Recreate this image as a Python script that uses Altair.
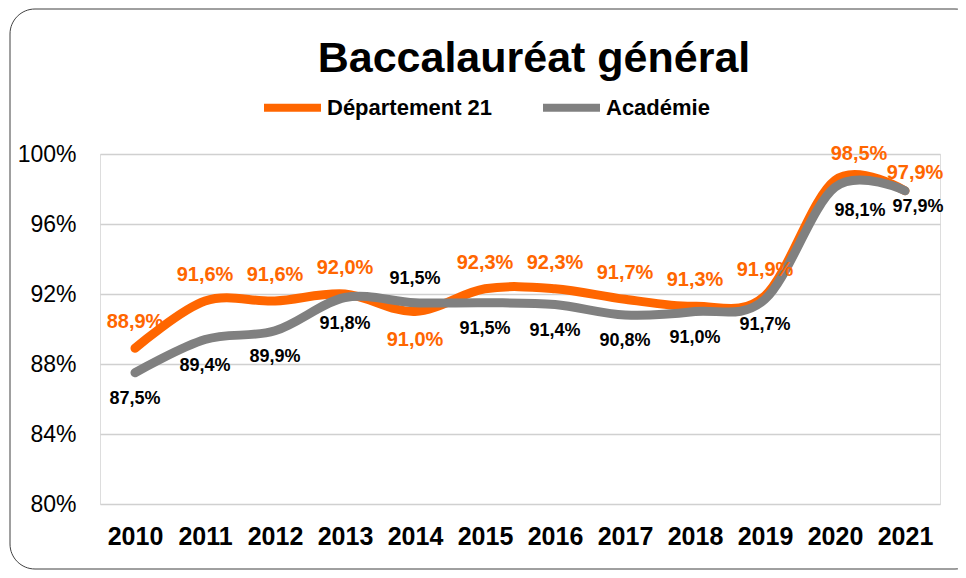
import altair as alt
import pandas as pd

years = ["2010", "2011", "2012", "2013", "2014", "2015", "2016", "2017", "2018", "2019", "2020", "2021"]
dept = [88.9, 91.6, 91.6, 92.0, 91.0, 92.3, 92.3, 91.7, 91.3, 91.9, 98.5, 97.9]
acad = [87.5, 89.4, 89.9, 91.8, 91.5, 91.5, 91.4, 90.8, 91.0, 91.7, 98.1, 97.9]
dept_pos = ["above", "above", "above", "above", "below", "above", "above", "above", "above", "above", "above", "above"]
acad_pos = ["below", "below", "below", "below", "above", "below", "below", "below", "below", "below", "below", "below"]
series = ["Département 21", "Académie"]
colors = ["#FF6600", "#808080"]
y_ticks = [80, 84, 88, 92, 96, 100]
title = "Baccalauréat général"

FONT = "Liberation Sans"

rows = []
for name, vals, pos in ((series[0], dept, dept_pos), (series[1], acad, acad_pos)):
    for yr, v, p in zip(years, vals, pos):
        rows.append({"year": yr, "value": v / 100, "series": name, "pos": p,
                     "label": f"{v:.1f}%".replace(".", ",")})
df = pd.DataFrame(rows)

x_enc = alt.X("year:O", scale=alt.Scale(type="point", padding=0.5),
              axis=alt.Axis(title=None, labelAngle=0, labelFontSize=25, labelFont=FONT,
                            labelFontWeight="bold", labelColor="black", ticks=False,
                            domain=False, labelPadding=20, grid=False))
y_enc = alt.Y("value:Q", scale=alt.Scale(domain=[0.8, 1.0], nice=False, zero=False),
              axis=alt.Axis(title=None, values=[t / 100 for t in y_ticks], format=".0%",
                            labelFontSize=23, labelFont=FONT, labelColor="black",
                            ticks=False, domain=False, labelPadding=24,
                            gridColor="#D0D0D0", gridWidth=1.5))
color = alt.Color("series:N", scale=alt.Scale(domain=series, range=colors),
                  legend=alt.Legend(title=None, orient="none", legendX=160, legendY=-79,
                                    direction="horizontal", symbolType="stroke",
                                    symbolSize=3249, symbolStrokeWidth=8,
                                    labelFontSize=22, labelFont=FONT, labelFontWeight="bold",
                                    labelColor="black", columnPadding=34, labelOffset=2,
                                    labelLimit=400, padding=0))

base = alt.Chart(df)

frame = alt.Chart(pd.DataFrame({"f": [0]})).mark_rect(
    fillOpacity=0, stroke="#404040", strokeWidth=1, cornerRadius=25
).encode(x=alt.value(-90), x2=alt.value(880), y=alt.value(-145), y2=alt.value(415))

lines = []
for s in series:
    lines.append(
        base.transform_filter(alt.datum.series == s)
        .mark_line(interpolate="cardinal", strokeWidth=9, strokeCap="round")
        .encode(x=x_enc, y=y_enc, color=color)
    )


def labels(s, col, size, cond, dx, dy):
    return (
        base.transform_filter(alt.datum.series == s)
        .transform_filter(cond)
        .mark_text(font=FONT, fontSize=size, fontWeight="bold", color=col,
                   dx=dx, dy=dy, baseline="middle", align="center")
        .encode(x=x_enc, y=y_enc, text="label:N")
    )


main_years = (alt.datum.year != "2020") & (alt.datum.year != "2021")
texts = [
    labels(series[0], colors[0], 20, main_years & (alt.datum.pos == "above"), 0, -26),
    labels(series[0], colors[0], 20, main_years & (alt.datum.pos == "below"), 0, 28),
    labels(series[0], colors[0], 20, alt.datum.year == "2020", 24, -26),
    labels(series[0], colors[0], 20, alt.datum.year == "2021", 10, -18),
    labels(series[1], "black", 18, main_years & (alt.datum.pos == "below"), 0, 26),
    labels(series[1], "black", 18, main_years & (alt.datum.pos == "above"), 0, -24),
    labels(series[1], "black", 18, alt.datum.year == "2020", 25, 24),
    labels(series[1], "black", 18, alt.datum.year == "2021", 13, 16),
]

chart = alt.layer(frame, *lines, *texts).properties(
    width=840, height=350,
    autosize=alt.AutoSizeParams(type="none"),
    padding={"left": 92, "top": 146, "right": 18, "bottom": 66},
    title=alt.TitleParams(title, fontSize=43, font=FONT, fontWeight="bold", color="black",
                          anchor="middle", dx=14, dy=76),
).configure_view(stroke=None).configure(background="white")

chart.save("out.html", embed_options={"renderer": "svg", "actions": False})
